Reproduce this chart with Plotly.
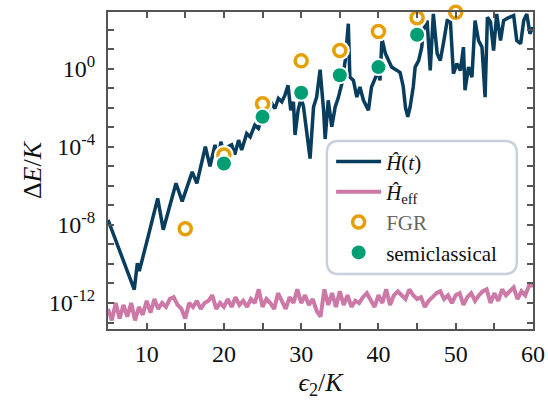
import plotly.graph_objects as go

# ---------------- data ----------------
# H(t): epsilon_2/K and Delta E / K
eps_ht = [5.0, 8.4, 8.8, 9.05, 10.2, 11.43, 12.15, 13.8, 14.6, 15.9, 16.5, 17.6, 18.2, 18.85,
          19.3, 19.6, 20.0, 20.5, 21.0, 21.4, 21.9, 22.3, 22.95, 23.4, 24.0, 24.46, 24.9, 25.3,
          25.75, 26.2, 26.6, 27.05, 27.5, 27.9, 28.3, 28.65, 29.0, 29.2, 29.6, 30.0, 30.3, 30.7,
          31.15, 31.6, 32.0, 32.45, 32.9, 33.1, 33.5, 33.96, 34.4, 34.8, 35.26, 35.7, 36.1, 36.3,
          36.76, 37.2, 37.6, 38.06, 38.5, 38.7, 39.1, 39.6, 40.0, 40.2, 40.45, 40.9, 41.3, 41.7,
          42.4, 42.8, 43.2, 43.5, 43.8, 44.1, 44.5, 44.75, 45.2, 45.6, 45.8, 46.3, 46.7, 47.1,
          47.6, 48.0, 48.4, 48.9, 49.3, 49.7, 50.15, 50.6, 51.0, 51.2, 51.66, 52.1, 52.5, 52.95,
          53.4, 53.8, 54.1, 54.5, 54.9, 55.3, 55.8, 56.2, 56.8, 57.5, 57.9, 58.4, 58.8, 59.2,
          59.6, 60.0]
dE_ht = [1.8e-8, 4.9e-12, 1.1e-10, 4.3e-11, 2.6e-9, 2.3e-7, 5.6e-9, 1.35e-6, 1.6e-7, 5.2e-6,
         1.35e-6, 1.0e-4, 1.0e-5, 1.26e-4, 2.1e-5, 1.8e-4, 5.0e-5, 1.0e-4, 1.26e-4, 4.0e-5,
         2.2e-4, 6.8e-5, 4.8e-4, 3.2e-4, 1.3e-3, 8.7e-4, 2.5e-3, 3.2e-3, 7.4e-3, 1.6e-2,
         9.1e-3, 3.0e-2, 2.0e-2, 4.4e-2, 0.14, 7.4e-3, 2.0e-2, 4.0e-4, 7.4e-3, 3.2e-2,
         1.1e-2, 7.1e-4, 2.5e-5, 1.1e-2, 3.5e-2, 0.89, 7.4e-3, 2.5e-4, 2.4e-2, 1.05e-3,
         1.1e-2, 3.2e-2, 0.17, 2.6, 200.0, 0.37, 0.25, 3.5e-2, 0.115, 2.4e-2,
         1.1e-2, 7.4e-3, 0.115, 0.37, 0.79, 0.25, 34.0, 5.9, 2.5, 1.2,
         0.81, 0.63, 0.126, 1.0e-2, 3.4e-3, 1.1e-2, 0.115, 1.2, 2.6, 12.6,
         89.0, 290.0, 0.81, 630.0, 5.9, 2.6, 19.0, 290.0, 316.0, 0.55,
         1.8, 0.81, 12.6, 7.8e-2, 1.2, 0.37, 290.0, 27.5, 12.6, 3.5e-2,
         427.0, 250.0, 8.5, 630.0, 27.5, 290.0, 400.0, 525.0, 27.5, 19.0,
         290.0, 630.0, 62.0, 132.0]

# H_eff: sampled every 0.5 in epsilon_2/K from 5 to 60
eps_eff = [5.0 + 0.5 * i for i in range(111)]
dE_eff = [5.0e-13, 1.3e-13, 1.0e-12, 1.6e-13, 8.0e-13, 2.0e-13, 1.0e-12, 1.3e-13, 6.3e-13, 2.5e-13,
          1.3e-12, 3.2e-13, 1.6e-12, 5.0e-13, 1.0e-12, 6.3e-13, 1.6e-12, 2.0e-12, 8.0e-13, 5.0e-13,
          1.6e-13, 1.0e-12, 6.3e-13, 1.3e-12, 5.0e-13, 1.0e-12, 1.3e-12, 2.5e-12, 5.0e-13, 1.0e-12,
          6.3e-13, 1.6e-12, 6.3e-13, 2.0e-12, 8.0e-13, 1.3e-12, 6.3e-13, 1.6e-12, 1.0e-12, 5.0e-12,
          6.3e-13, 1.6e-12, 1.0e-12, 5.0e-13, 3.2e-12, 1.3e-12, 5.0e-13, 2.0e-12, 1.0e-12, 5.0e-12,
          1.0e-12, 2.5e-12, 8.0e-13, 1.6e-12, 4.0e-13, 2.0e-13, 5.0e-12, 8.0e-13, 3.2e-12, 6.3e-13,
          4.0e-12, 8.0e-13, 2.5e-12, 6.3e-13, 1.3e-12, 1.0e-12, 2.0e-12, 3.2e-12, 1.3e-12, 6.3e-13,
          2.5e-12, 1.0e-12, 5.0e-12, 8.0e-13, 2.5e-12, 4.0e-12, 2.5e-12, 1.6e-12, 5.0e-12, 2.5e-12,
          1.6e-12, 2.0e-12, 6.3e-13, 1.3e-12, 2.0e-12, 3.2e-12, 4.0e-12, 1.6e-12, 2.5e-12, 1.0e-12,
          2.5e-12, 3.2e-12, 8.0e-13, 2.0e-12, 3.2e-12, 1.3e-12, 2.5e-12, 4.0e-12, 5.0e-12, 1.0e-12,
          3.2e-12, 1.3e-12, 5.0e-12, 2.5e-12, 4.0e-12, 6.3e-12, 1.6e-12, 4.0e-12, 2.5e-12, 8.0e-12,
          8.0e-12]

# Fermi golden rule
eps_fgr = [15, 20, 25, 30, 35, 40, 45, 50]
dE_fgr = [6.3e-9, 3.8e-5, 1.6e-2, 2.5, 8.5, 79.0, 400.0, 776.0]

# semiclassical
eps_sc = [20, 25, 30, 35, 40, 45]
dE_sc = [1.4e-5, 3.4e-3, 5.8e-2, 0.46, 1.2, 54.0]

# tick labels
x_tickvals = [10, 20, 30, 40, 50, 60]
x_ticktext = ["10", "20", "30", "40", "50", "60"]
y_tickvals = [1e-12, 1e-8, 1e-4, 1e0]
y_ticktext = ["10<sup>-12</sup>", "10<sup>-8</sup>", "10<sup>-4</sup>", "10<sup>0</sup>"]
y_minorvals = [1e-13, 1e-11, 1e-10, 1e-9, 1e-7, 1e-6, 1e-5, 1e-3, 1e-2, 1e-1, 1e1, 1e2]

# ---------------- styling ----------------
BLUE = "#083d5e"
PINK = "#cc79a7"
ORANGE = "#e69f00"
GREEN = "#009e73"
AXIS = "#555555"
FONT = "Liberation Serif"

fig = go.Figure()

fig.add_trace(go.Scatter(x=eps_ht, y=dE_ht, mode="lines", name="<i>Ĥ</i>(<i>t</i>)",
                         line=dict(color=BLUE, width=3.5)))
fig.add_trace(go.Scatter(x=eps_eff, y=dE_eff, mode="lines", name="<i>Ĥ</i><sub>eff</sub>",
                         line=dict(color=PINK, width=4)))
# white halos under markers
fig.add_trace(go.Scatter(x=eps_fgr, y=dE_fgr, mode="markers", showlegend=False, hoverinfo="skip",
                         cliponaxis=False, marker=dict(color="white", size=20, line=dict(width=0))))
fig.add_trace(go.Scatter(x=eps_fgr, y=dE_fgr, mode="markers",
                         name="<span style='color:#666666'>FGR</span>", cliponaxis=False,
                         marker=dict(color="white", size=12, line=dict(color=ORANGE, width=3.5))))
fig.add_trace(go.Scatter(x=eps_sc, y=dE_sc, mode="markers", showlegend=False, hoverinfo="skip",
                         cliponaxis=False, marker=dict(color="white", size=18, line=dict(width=0))))
fig.add_trace(go.Scatter(x=eps_sc, y=dE_sc, mode="markers", name="semiclassical", cliponaxis=False,
                         marker=dict(color=GREEN, size=14, line=dict(width=0))))

axis_common = dict(showline=True, linecolor=AXIS, linewidth=2, mirror="allticks",
                   ticks="inside", ticklen=6, tickwidth=1.5, tickcolor=AXIS,
                   showgrid=False, zeroline=False, automargin=False,
                   tickfont=dict(family=FONT, size=24, color="#111111"))

fig.update_xaxes(range=[5, 60], tickmode="array", tickvals=x_tickvals, ticktext=x_ticktext,
                 minor=dict(tickmode="linear", tick0=5, dtick=5, ticks="inside", ticklen=6,
                            tickwidth=1.5, tickcolor=AXIS, showgrid=False),
                 title=dict(text="<i>ϵ</i><sub>2</sub>/<i>K</i>",
                            font=dict(family=FONT, size=26, color="#111111")),
                 ticklabelstandoff=2, **axis_common)
fig.update_yaxes(type="log", range=[-13.33, 2.9], tickmode="array",
                 tickvals=y_tickvals, ticktext=y_ticktext,
                 minor=dict(tickmode="array", tickvals=y_minorvals, ticks="inside", ticklen=6,
                            tickwidth=1.5, tickcolor=AXIS, showgrid=False),
                 title=dict(text="Δ<i>E</i>/<i>K</i>", standoff=0,
                            font=dict(family=FONT, size=26, color="#111111")),
                 ticklabelstandoff=6, **axis_common)

# rounded legend frame (paper coords of the plotting area)
x0, x1, y0, y1 = 0.515, 0.962, 0.1735, 0.593
rx, ry = 0.028, 0.038
path = (f"M {x0+rx},{y0} L {x1-rx},{y0} Q {x1},{y0} {x1},{y0+ry} "
        f"L {x1},{y1-ry} Q {x1},{y1} {x1-rx},{y1} L {x0+rx},{y1} "
        f"Q {x0},{y1} {x0},{y1-ry} L {x0},{y0+ry} Q {x0},{y0} {x0+rx},{y0} Z")
fig.add_shape(type="path", path=path, xref="paper", yref="paper",
              line=dict(color="#c8d1da", width=2.5), fillcolor="rgba(255,255,255,0.8)",
              layer="above")

fig.update_layout(
    width=548, height=400,
    margin=dict(l=108, r=15, t=12, b=71),
    paper_bgcolor="white", plot_bgcolor="white",
    font=dict(family=FONT, color="#111111"),
    showlegend=True,
    legend=dict(x=0.525, y=0.592, xanchor="left", yanchor="top",
                bgcolor="rgba(0,0,0,0)", borderwidth=0,
                font=dict(family=FONT, size=21, color="#111111"),
                itemwidth=45, tracegroupgap=0),
)

fig.write_html("out.html", config={"displayModeBar": False},
               post_script="document.body.style.margin='0';document.body.style.overflow='hidden';")
